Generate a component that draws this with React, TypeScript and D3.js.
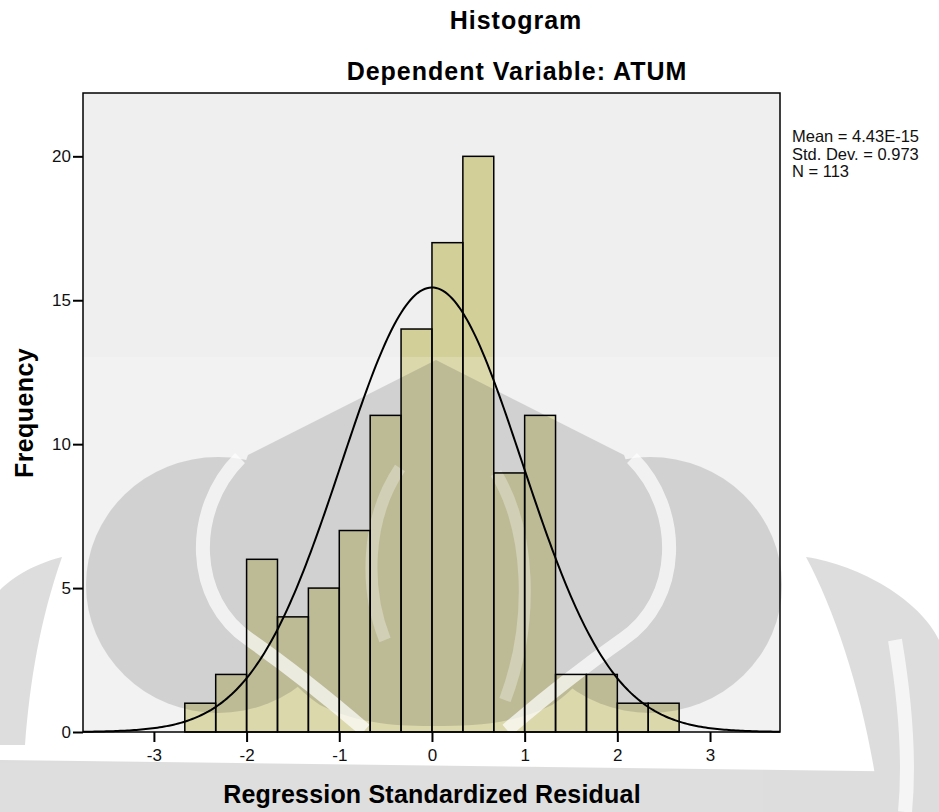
import React, { useEffect, useRef } from 'react';
import * as d3 from 'd3';

// histogram counts, one per bin of width 1/3 starting at -8/3
const FREQUENCIES = [1, 2, 6, 4, 5, 7, 11, 14, 17, 20, 9, 11, 2, 2, 1, 1];
const BIN_START = -8 / 3;
const BIN_WIDTH = 1 / 3;

// summary stats printed beside the plot (also used for the normal curve)
const MEAN = 4.43e-15;
const STD_DEV = 0.973;
const N = 113;
const STAT_LINES = ['Mean = 4.43E-15', 'Std. Dev. = 0.973', 'N = 113'];

const X_TICKS = [-3, -2, -1, 0, 1, 2, 3];
const Y_TICKS = [0, 5, 10, 15, 20];

const TITLE = 'Histogram';
const SUBTITLE = 'Dependent Variable: ATUM';
const X_LABEL = 'Regression Standardized Residual';
const Y_LABEL = 'Frequency';

// faint logo watermark that sits behind the source image
const WATERMARK_GRAY = [
  'M436,360 L248,455 C222,520 238,650 320,705 C360,725 400,726 436,726 C472,726 512,725 552,705 C634,650 650,520 624,455 Z',
  'M86,585 A132,128 0 1,0 350,585 A132,128 0 1,0 86,585 Z',
  'M518,585 A132,128 0 1,0 782,585 A132,128 0 1,0 518,585 Z',
  'M806,557 C860,565 920,600 939,640 L939,812 L880,812 C870,720 840,620 806,557 Z',
  'M62,557 C30,565 10,580 0,590 L0,745 L25,745 C30,680 40,620 62,557 Z',
  'M0,760 L939,772 L939,812 L0,812 Z',
];
const WATERMARK_WHITE = [
  'M240,458 C188,510 190,600 250,640 C290,668 330,700 365,730',
  'M632,458 C684,510 682,600 622,640 C582,668 542,700 507,730',
  'M895,640 C905,700 910,760 905,812',
];
const WATERMARK_SOFT = [
  'M400,468 C365,520 365,590 385,640',
  'M496,473 C530,530 535,620 505,700',
];

const FONT = 'Arial, "Liberation Sans", sans-serif';

const Histogram = () => {
  const svgRef = useRef<SVGSVGElement>(null);

  useEffect(() => {
    const svg = d3.select(svgRef.current);
    svg.selectAll('*').remove();

    const plot = { left: 83, right: 780, top: 93, bottom: 732 };

    const x = d3.scaleLinear().domain([-3.765, 3.755]).range([plot.left, plot.right]);
    const y = d3.scaleLinear().domain([0, 22.2]).range([plot.bottom, plot.top]);

    const bins = FREQUENCIES.map((count, i) => ({
      x0: BIN_START + i * BIN_WIDTH,
      x1: BIN_START + (i + 1) * BIN_WIDTH,
      count,
    }));

    svg.append('rect').attr('width', 939).attr('height', 812).attr('fill', '#ffffff');

    // plot background
    svg
      .append('rect')
      .attr('x', plot.left)
      .attr('y', plot.top)
      .attr('width', plot.right - plot.left)
      .attr('height', plot.bottom - plot.top)
      .attr('fill', '#efefef');

    // bar fills first so the watermark tints them
    svg
      .append('g')
      .selectAll('rect')
      .data(bins)
      .enter()
      .append('rect')
      .attr('x', d => x(d.x0))
      .attr('y', d => y(d.count))
      .attr('width', d => x(d.x1) - x(d.x0))
      .attr('height', d => y(0) - y(d.count))
      .attr('fill', '#d3cf98');

    // watermark
    svg
      .append('rect')
      .attr('x', 0)
      .attr('y', 357)
      .attr('width', 939)
      .attr('height', 455)
      .attr('fill', '#ffffff')
      .attr('opacity', 0.2);

    const wm = svg.append('g').attr('opacity', 0.13);
    WATERMARK_GRAY.forEach(d => wm.append('path').attr('d', d).attr('fill', '#000'));

    WATERMARK_WHITE.forEach(d =>
      svg
        .append('path')
        .attr('d', d)
        .attr('fill', 'none')
        .attr('stroke', '#ffffff')
        .attr('stroke-width', 14)
        .attr('opacity', 0.7)
    );
    WATERMARK_SOFT.forEach(d =>
      svg
        .append('path')
        .attr('d', d)
        .attr('fill', 'none')
        .attr('stroke', '#ffffff')
        .attr('stroke-width', 12)
        .attr('opacity', 0.3)
    );

    // bar outlines
    svg
      .append('g')
      .selectAll('rect')
      .data(bins)
      .enter()
      .append('rect')
      .attr('x', d => x(d.x0))
      .attr('y', d => y(d.count))
      .attr('width', d => x(d.x1) - x(d.x0))
      .attr('height', d => y(0) - y(d.count))
      .attr('fill', 'none')
      .attr('stroke', '#000')
      .attr('stroke-width', 1.5);

    // fitted normal curve
    const pdf = (v: number) =>
      (N * BIN_WIDTH) / (STD_DEV * Math.sqrt(2 * Math.PI)) *
      Math.exp(-((v - MEAN) ** 2) / (2 * STD_DEV * STD_DEV));
    const [d0, d1] = x.domain();
    const pts = d3.range(0, 301).map(i => d0 + ((d1 - d0) * i) / 300);
    svg
      .append('path')
      .datum(pts)
      .attr('fill', 'none')
      .attr('stroke', '#000')
      .attr('stroke-width', 2)
      .attr('d', d3.line<number>().x(v => x(v)).y(v => y(pdf(v))));

    // frame
    svg
      .append('rect')
      .attr('x', plot.left)
      .attr('y', plot.top)
      .attr('width', plot.right - plot.left)
      .attr('height', plot.bottom - plot.top)
      .attr('fill', 'none')
      .attr('stroke', '#000')
      .attr('stroke-width', 1.5);

    // axes
    const yAxis = svg
      .append('g')
      .attr('transform', `translate(${plot.left},0)`)
      .call(d3.axisLeft(y).tickValues(Y_TICKS).tickSize(10).tickPadding(2).tickFormat(d => String(d)));
    const xAxis = svg
      .append('g')
      .attr('transform', `translate(0,${plot.bottom})`)
      .call(d3.axisBottom(x).tickValues(X_TICKS).tickSize(10).tickPadding(7).tickFormat(d => String(d)));
    [yAxis, xAxis].forEach(ax => {
      ax.select('.domain').remove();
      ax.selectAll('line').attr('stroke', '#000').attr('stroke-width', 2);
      ax.selectAll('text').attr('font-family', FONT).attr('font-size', 17).attr('fill', '#111');
    });

    // titles and labels
    svg
      .append('text')
      .attr('x', 516)
      .attr('y', 29)
      .attr('text-anchor', 'middle')
      .attr('font-family', FONT)
      .attr('font-weight', 'bold')
      .attr('font-size', 25)
      .attr('letter-spacing', 1)
      .text(TITLE);
    svg
      .append('text')
      .attr('x', 517)
      .attr('y', 80)
      .attr('text-anchor', 'middle')
      .attr('font-family', FONT)
      .attr('font-weight', 'bold')
      .attr('font-size', 25)
      .attr('letter-spacing', 1)
      .text(SUBTITLE);
    svg
      .append('text')
      .attr('x', 432)
      .attr('y', 803)
      .attr('text-anchor', 'middle')
      .attr('font-family', FONT)
      .attr('font-weight', 'bold')
      .attr('font-size', 25)
      .attr('letter-spacing', 0.2)
      .text(X_LABEL);
    svg
      .append('text')
      .attr('transform', 'translate(33,413) rotate(-90)')
      .attr('text-anchor', 'middle')
      .attr('font-family', FONT)
      .attr('font-weight', 'bold')
      .attr('font-size', 25)
      .attr('letter-spacing', 0.4)
      .text(Y_LABEL);

    // stats block
    svg
      .append('g')
      .selectAll('text')
      .data(STAT_LINES)
      .enter()
      .append('text')
      .attr('x', 792)
      .attr('y', (_, i) => 142 + i * 17.5)
      .attr('font-family', FONT)
      .attr('font-size', 16.5)
      .attr('fill', '#111')
      .text(d => d);
  }, []);

  return (
    <svg
      ref={svgRef}
      width={939}
      height={812}
      style={{ position: 'absolute', left: 0, top: 0, display: 'block' }}
    />
  );
};

export default function App() {
  return <Histogram />;
}
